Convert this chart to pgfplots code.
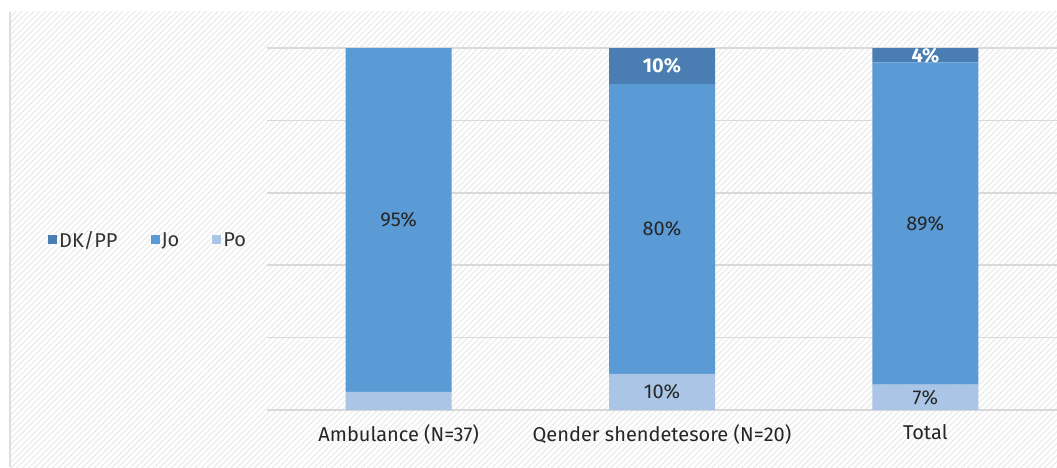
\documentclass[border=0pt]{standalone}
\usepackage{pgfplots}
\pgfplotsset{compat=1.18}
\usepackage{fontspec}
\setmainfont{Fira Sans}
\usetikzlibrary{patterns.meta}
\definecolor{cdk}{HTML}{4A7EB2}
\definecolor{cjo}{HTML}{5B9BD5}
\definecolor{cpo}{HTML}{ABC5E6}
\definecolor{cgrid}{HTML}{D9D9D9}
\definecolor{ctxt}{HTML}{262626}
\begin{document}
\begin{tikzpicture}[x=1pt,y=1pt]
\useasboundingbox (0,0) rectangle (1057,467);
\fill[white] (0,0) rectangle (1057,467);
\fill[pattern={Lines[angle=45,distance=4.2pt,line width=1.3pt]}, pattern color=black!7] (10,0) rectangle (1057,455);
\draw[line width=2pt, black!13] (10,0) -- (10,455);
\begin{axis}[
  at={(267pt,57pt)}, anchor=south west,
  width=790pt, height=362pt, scale only axis,
  ybar stacked, bar width=106pt,
  xmin=-0.5, xmax=2.5, ymin=0, ymax=100,
  xtick={0,1,2},
  xticklabels={Ambulance (N=37), Qender shendetesore (N=20), Total},
  ytick={0,20,40,60,80,100}, yticklabels={},
  ymajorgrids, grid style={line width=1.5pt, cgrid},
  axis x line*=bottom, axis y line*=left,
  x axis line style={draw=cgrid, line width=1.5pt, -},
  y axis line style={draw=none},
  major tick length=0pt,
  tick label style={font=\fontsize{20}{24}\selectfont, text=ctxt},
  xticklabel style={yshift=-11pt},
  legend columns=3, reverse legend,
  legend style={at={(rel axis cs:-0.281,0.47)}, anchor=west, draw=none, fill=none,
    font=\fontsize{20}{24}\selectfont, text=black!80,
    /tikz/every even column/.append style={column sep=31pt}},
  legend image code/.code={\fill[#1] (0pt,-4.5pt) rectangle (9pt,4.5pt);},
  clip=false,
]
\addplot[fill=cpo, draw=none] coordinates {(0,5) (1,10) (2,7)};
\addplot[fill=cjo, draw=none] coordinates {(0,95) (1,80) (2,89)};
\addplot[fill=cdk, draw=none] coordinates {(0,0) (1,10) (2,4)};
\legend{Po, Jo, DK/PP}
\end{axis}
\begin{axis}[
  at={(267pt,57pt)}, anchor=south west,
  width=790pt, height=362pt, scale only axis,
  xmin=-0.5, xmax=2.5, ymin=0, ymax=100, hide axis,
  nodes near coords, point meta=explicit symbolic,
  every node near coord/.append style={anchor=center, font=\fontsize{20}{24}\selectfont, text=ctxt},
  clip=false,
]
\addplot[only marks, mark=none, nodes near coords align=center] coordinates {(0,52.5)[95\%] (1,5)[10\%] (1,50)[80\%] (2,3.5)[7\%] (2,51.5)[89\%]};
\addplot[only marks, mark=none, nodes near coords align=center, every node near coord/.append style={text=white, font=\fontsize{20}{24}\selectfont\bfseries}] coordinates {(1,95)[10\%] (2,98)[4\%]};
\end{axis}
\end{tikzpicture}
\end{document}
